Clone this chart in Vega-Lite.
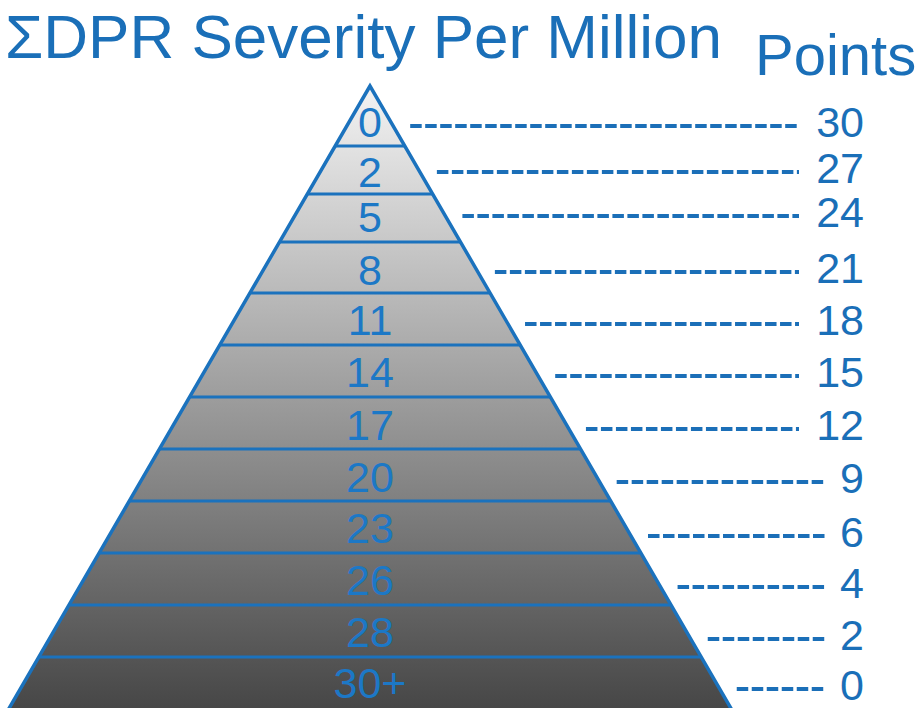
{
  "$schema": "https://vega.github.io/schema/vega-lite/v6.json",
  "width": 922,
  "height": 708,
  "padding": 0,
  "autosize": {"type": "none"},
  "background": "white",
  "config": {"view": {"stroke": null}, "text": {"font": "Liberation Sans"}},
  "datasets": {
    "tiers": [
      {"severity": "0", "points": 30, "top": 86, "base": 137, "rbase": 137},
      {"severity": "2", "points": 27, "top": 146, "base": 187, "rbase": 183},
      {"severity": "5", "points": 24, "top": 194, "base": 232, "rbase": 227},
      {"severity": "8", "points": 21, "top": 242, "base": 285, "rbase": 283},
      {"severity": "11", "points": 18, "top": 293, "base": 335, "rbase": 335},
      {"severity": "14", "points": 15, "top": 345, "base": 387, "rbase": 387},
      {"severity": "17", "points": 12, "top": 397, "base": 440, "rbase": 440},
      {"severity": "20", "points": 9, "top": 449, "base": 492, "rbase": 493},
      {"severity": "23", "points": 6, "top": 501, "base": 543, "rbase": 547},
      {"severity": "26", "points": 4, "top": 553, "base": 595, "rbase": 598},
      {"severity": "28", "points": 2, "top": 605, "base": 647, "rbase": 650},
      {"severity": "30+", "points": 0, "top": 657, "base": 698, "rbase": 700}
    ],
    "outline": [
      {"depth": 86},
      {"depth": 714}
    ]
  },
  "layer": [
    {
      "data": {"name": "outline"},
      "transform": [
        {"calculate": "-0.58*(datum.depth-86)", "as": "left"},
        {"calculate": "0.58*(datum.depth-86)", "as": "right"}
      ],
      "mark": {
        "type": "area",
        "orient": "horizontal",
        "stroke": "#1b72bd",
        "strokeWidth": 3.5,
        "strokeJoin": "miter",
        "fill": {
          "gradient": "linear",
          "x1": 0, "y1": 0, "x2": 0, "y2": 1,
          "stops": [
            {"offset": 0, "color": "#f3f3f3"},
            {"offset": 1, "color": "#454545"}
          ]
        }
      },
      "encoding": {
        "y": {"field": "depth", "type": "quantitative", "axis": null,
              "scale": {"domain": [0, 708], "reverse": true, "nice": false, "zero": false}},
        "x": {"field": "left", "type": "quantitative", "axis": null,
              "scale": {"domain": [-370, 552], "nice": false, "zero": false}},
        "x2": {"field": "right"}
      }
    },
    {
      "data": {"name": "tiers"},
      "transform": [
        {"filter": "datum.top > 86"},
        {"calculate": "-0.58*(datum.top-86)", "as": "left"},
        {"calculate": "0.58*(datum.top-86)", "as": "right"}
      ],
      "mark": {"type": "rule", "stroke": "#1b72bd", "strokeWidth": 3},
      "encoding": {
        "y": {"field": "top", "type": "quantitative", "axis": null},
        "x": {"field": "left", "type": "quantitative", "axis": null},
        "x2": {"field": "right"}
      }
    },
    {
      "data": {"name": "tiers"},
      "mark": {"type": "text", "fontSize": 43, "color": "#1c78c6", "align": "center", "baseline": "alphabetic"},
      "encoding": {
        "y": {"field": "base", "type": "quantitative", "axis": null},
        "x": {"datum": 0, "type": "quantitative", "axis": null},
        "text": {"field": "severity"}
      }
    },
    {
      "data": {"name": "tiers"},
      "transform": [
        {"calculate": "datum.rbase - 11", "as": "dashY"},
        {"calculate": "0.58*(datum.rbase - 11 - 86) + 17", "as": "dashStart"},
        {"calculate": "datum.points >= 10 ? 429 : 455", "as": "dashEnd"}
      ],
      "mark": {"type": "rule", "stroke": "#1b6fb8", "strokeWidth": 4, "strokeDash": [11.5, 3.5]},
      "encoding": {
        "y": {"field": "dashY", "type": "quantitative", "axis": null},
        "x": {"field": "dashStart", "type": "quantitative", "axis": null},
        "x2": {"field": "dashEnd"}
      }
    },
    {
      "data": {"name": "tiers"},
      "mark": {"type": "text", "fontSize": 43, "color": "#1a6fb8", "align": "right", "baseline": "alphabetic"},
      "encoding": {
        "y": {"field": "rbase", "type": "quantitative", "axis": null},
        "x": {"datum": 494, "type": "quantitative", "axis": null},
        "text": {"field": "points"}
      }
    },
    {
      "data": {"values": [{"label": "ΣDPR Severity Per Million"}]},
      "mark": {"type": "text", "fontSize": 62, "color": "#1a6fb8", "align": "left", "baseline": "alphabetic"},
      "encoding": {
        "y": {"datum": 58, "type": "quantitative", "axis": null},
        "x": {"datum": -365, "type": "quantitative", "axis": null},
        "text": {"field": "label"}
      }
    },
    {
      "data": {"values": [{"label": "Points"}]},
      "mark": {"type": "text", "fontSize": 58, "color": "#1a6fb8", "align": "left", "baseline": "alphabetic"},
      "encoding": {
        "y": {"datum": 75, "type": "quantitative", "axis": null},
        "x": {"datum": 385, "type": "quantitative", "axis": null},
        "text": {"field": "label"}
      }
    }
  ]
}
